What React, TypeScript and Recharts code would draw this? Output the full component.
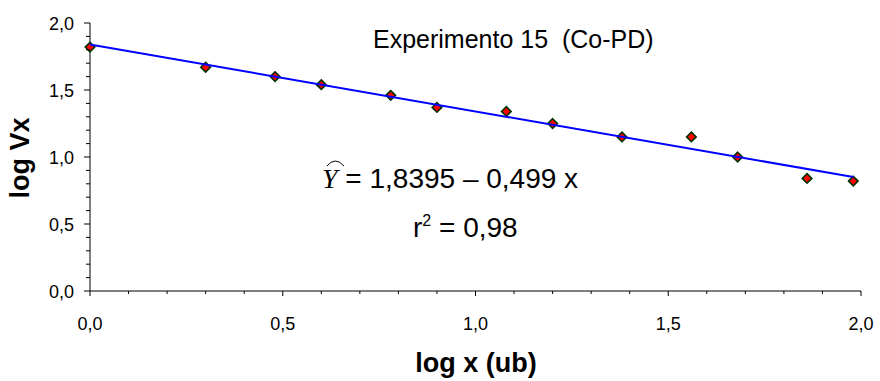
import React from 'react';
import { ScatterChart, Scatter, XAxis, YAxis } from 'recharts';

// log x values (ub)
const X_VALUES = [0.0, 0.3, 0.48, 0.6, 0.78, 0.9, 1.08, 1.2, 1.38, 1.56, 1.68, 1.86, 1.98];
// log Vx values
const Y_VALUES = [1.82, 1.67, 1.6, 1.54, 1.46, 1.37, 1.34, 1.25, 1.15, 1.15, 1.0, 0.84, 0.82];
// fitted line end points
const TREND_X = [0, 1.98];
const TREND_Y = [1.8395, 0.851];

const AXIS_TICKS = [0, 0.1, 0.2, 0.3, 0.4, 0.5, 0.6, 0.7, 0.8, 0.9, 1.0, 1.1, 1.2, 1.3, 1.4, 1.5, 1.6, 1.7, 1.8, 1.9, 2.0];
const MAJOR_TICKS = [0, 0.5, 1.0, 1.5, 2.0];
const MAJOR_LABELS = ['0,0', '0,5', '1,0', '1,5', '2,0'];

const TITLE = 'Experimento 15  (Co-PD)';
const X_TITLE = 'log x (ub)';
const Y_TITLE = 'log Vx';
const EQUATION = ' = 1,8395 \u2013 0,499 x';
const R2_VALUE = ' = 0,98';

const points = X_VALUES.map((x, i) => ({ x, y: Y_VALUES[i] }));
const trend = TREND_X.map((x, i) => ({ x, y: TREND_Y[i] }));

const FONT = '"Liberation Sans", Arial, sans-serif';

function majorIndex(v: number): number {
  return MAJOR_TICKS.findIndex((m) => Math.abs(m - v) < 1e-6);
}

function XTick(props: any) {
  const { x, y, payload } = props;
  const idx = majorIndex(payload.value);
  const major = idx >= 0;
  return (
    <g>
      <line x1={x} x2={x} y1={y} y2={y + (major ? 5 : 3)} stroke="#000" strokeWidth={1} />
      {major && (
        <text x={x} y={y + 39} textAnchor="middle" fontSize={18} fontFamily={FONT} fill="#000">
          {MAJOR_LABELS[idx]}
        </text>
      )}
    </g>
  );
}

function YTick(props: any) {
  const { x, y, payload } = props;
  const idx = majorIndex(payload.value);
  const major = idx >= 0;
  return (
    <g>
      <line x1={x - (major ? 6 : 4)} x2={x} y1={y} y2={y} stroke="#000" strokeWidth={1} />
      {major && (
        <text x={x - 16} y={y + 6.5} textAnchor="end" fontSize={18} fontFamily={FONT} fill="#000">
          {MAJOR_LABELS[idx]}
        </text>
      )}
    </g>
  );
}

function Diamond(props: any) {
  const { cx, cy } = props;
  if (cx == null || cy == null) return <g />;
  const r = 4.8;
  return (
    <polygon
      points={`${cx},${cy - r} ${cx + r},${cy} ${cx},${cy + r} ${cx - r},${cy}`}
      fill="#FF0000"
      stroke="#003300"
      strokeWidth={1.6}
    />
  );
}

function NoShape() {
  return <g />;
}

export default function App() {
  return (
    <div style={{ position: 'absolute', left: 0, top: 0, width: 880, height: 381, background: '#fff' }}>
      <ScatterChart width={880} height={381} margin={{ top: 23, right: 19, bottom: 0, left: 0 }}>
        <XAxis
          type="number"
          dataKey="x"
          domain={[0, 2]}
          ticks={AXIS_TICKS}
          interval={0}
          tickSize={0}
          tickMargin={0}
          tickLine={false}
          tick={<XTick />}
          height={90}
          axisLine={{ stroke: '#000', strokeWidth: 1 }}
        />
        <YAxis
          type="number"
          dataKey="y"
          domain={[0, 2]}
          ticks={AXIS_TICKS}
          interval={0}
          tickSize={0}
          tickMargin={0}
          tickLine={false}
          tick={<YTick />}
          width={90}
          axisLine={{ stroke: '#000', strokeWidth: 1 }}
        />
        <Scatter data={points} shape={<Diamond />} isAnimationActive={false} />
        <Scatter
          data={trend}
          line={{ stroke: '#0000FF', strokeWidth: 2 }}
          lineType="joint"
          shape={<NoShape />}
          isAnimationActive={false}
        />
      </ScatterChart>
      <svg
        width={880}
        height={381}
        style={{ position: 'absolute', left: 0, top: 0, pointerEvents: 'none' }}
      >
        <text x={373} y={48} fontSize={25} fontFamily={FONT} fill="#000" style={{ whiteSpace: 'pre' }}>
          {TITLE}
        </text>
        <text x={322} y={188} fontSize={28} fontFamily={FONT} fill="#000" style={{ whiteSpace: 'pre' }}>
          <tspan fontFamily='"Liberation Serif", "Times New Roman", serif' fontStyle="italic">Y</tspan>
          <tspan>{EQUATION}</tspan>
        </text>
        <path d="M327,166 Q335,156 344,166" fill="none" stroke="#000" strokeWidth={1} />
        <text x={413} y={237} fontSize={28} fontFamily={FONT} fill="#000" style={{ whiteSpace: 'pre' }}>
          <tspan>r</tspan>
          <tspan dy={-11} fontSize={16}>2</tspan>
          <tspan dy={11}>{R2_VALUE}</tspan>
        </text>
        <text x={476} y={372} textAnchor="middle" fontSize={27} fontWeight="bold" fontFamily={FONT} fill="#000">
          {X_TITLE}
        </text>
        <text
          transform="translate(29,158) rotate(-90)"
          textAnchor="middle"
          fontSize={27}
          fontWeight="bold"
          fontFamily={FONT}
          fill="#000"
        >
          {Y_TITLE}
        </text>
      </svg>
    </div>
  );
}
